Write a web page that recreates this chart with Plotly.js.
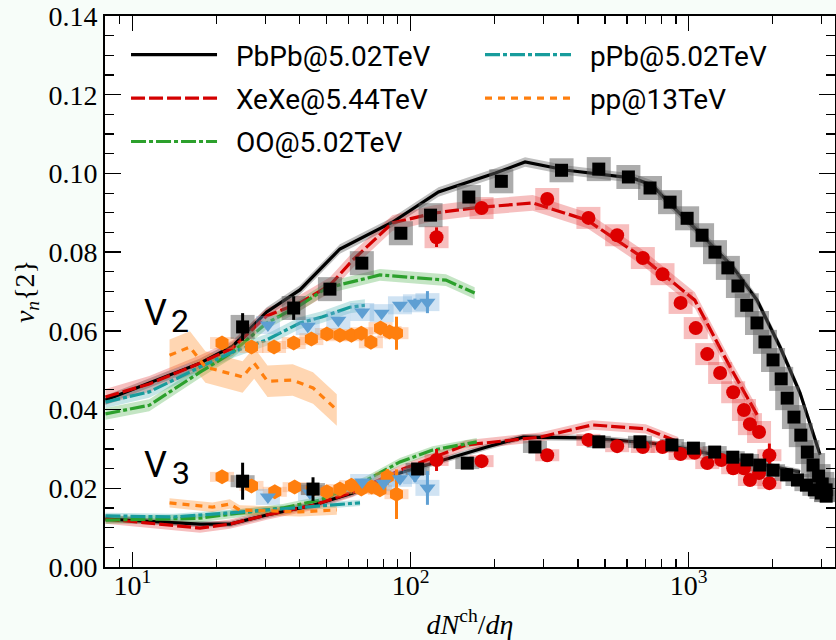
<!DOCTYPE html>
<html>
<head>
<meta charset="utf-8">
<script src="https://cdn.plot.ly/plotly-3.0.1.min.js"></script>
<style>html,body{margin:0;padding:0;background:#f7fdf9;}</style>
</head>
<body>
<div id="chart" style="width:836px;height:640px;"></div>
<script>
// ---------------- model curves (lines + bands) ----------------
const pbpbV2ModelX = [8, 11.5, 17.5, 22.9, 30.4, 40, 55.7, 86, 126, 202, 258, 365, 630, 740, 830, 1099, 1440, 1760, 2130, 2514, 2966];
const pbpbV2ModelY = [0.0424, 0.0467, 0.0518, 0.0561, 0.0648, 0.0704, 0.0808, 0.0876, 0.0953, 0.1001, 0.1029, 0.1008, 0.0988, 0.0970, 0.0932, 0.0848, 0.0762, 0.0678, 0.0559, 0.0442, 0.0285];
const xexeV2ModelX = [8, 11.5, 17.5, 22.9, 30.4, 40, 51.3, 62, 86, 121, 177, 275, 432, 680, 1052, 1409, 1780];
const xexeV2ModelY = [0.0432, 0.0465, 0.0518, 0.0556, 0.0638, 0.0671, 0.0716, 0.0780, 0.0874, 0.0899, 0.0914, 0.0925, 0.0881, 0.0787, 0.0678, 0.0508, 0.0381];
const ooV2ModelX = [8, 11.5, 17.5, 22.9, 30.4, 40, 50, 77.6, 134, 170];
const ooV2ModelY = [0.0389, 0.0411, 0.0495, 0.0546, 0.0620, 0.0665, 0.0709, 0.0742, 0.0729, 0.0696];
const ppbV2ModelX = [8, 11.5, 17.5, 22.9, 30.4, 40, 48, 60.5, 68.5];
const ppbV2ModelY = [0.0419, 0.0445, 0.0508, 0.0546, 0.0577, 0.0620, 0.0635, 0.0660, 0.0665];
const ppV2ModelX = [13.6, 16.1, 18.3, 24.9, 27.4, 30.6, 37.7, 44.6, 54.3];
const ppV2ModelY = [0.0538, 0.0559, 0.0508, 0.0483, 0.0518, 0.0472, 0.0475, 0.0455, 0.0399];

const pbpbV3ModelX = [8, 17.5, 22.4, 30.4, 44.6, 62, 91.6, 138, 188, 254, 430, 726, 950, 1531, 2514];
const pbpbV3ModelY = [0.0122, 0.0109, 0.0109, 0.0132, 0.0157, 0.0188, 0.0239, 0.0277, 0.0305, 0.0330, 0.0328, 0.0315, 0.0302, 0.0272, 0.0241];
const xexeV3ModelX = [8, 11.5, 17.5, 22.4, 30.4, 44.6, 62, 91.6, 158, 292, 450, 700, 917];
const xexeV3ModelY = [0.0122, 0.0112, 0.0099, 0.0109, 0.0132, 0.0157, 0.0190, 0.0246, 0.0310, 0.0330, 0.0361, 0.0351, 0.0318];
const ooV3ModelX = [8, 11.5, 17.5, 22.9, 34.7, 47.2, 69.6, 91.6, 120, 173];
const ooV3ModelY = [0.0119, 0.0122, 0.0124, 0.0135, 0.0150, 0.0170, 0.0221, 0.0267, 0.0297, 0.0318];
const ppbV3ModelX = [8, 14.0, 21.8, 40, 65.8];
const ppbV3ModelY = [0.0130, 0.0127, 0.0137, 0.0152, 0.0163];
const ppV3ModelX = [13.6, 19.4, 22.4, 24.3, 40, 54.3];
const ppV3ModelY = [0.0163, 0.0152, 0.0160, 0.0145, 0.0140, 0.0145];

// model band half-widths
const bandV2 = {pbpb: 0.0012, xexe: 0.0020, oo: 0.0015, ppb: 0.0015, pp: 0.0040};
const bandV3 = {pbpb: 0.0008, xexe: 0.0012, oo: 0.0010, ppb: 0.0008, pp: 0.0012};

// ---------------- experimental data ----------------
const pbpbV2DataX = [24.9, 38, 51.3, 66.8, 92.3, 118, 162, 212, 349, 475, 607, 726, 857, 987, 1117, 1243, 1383, 1503, 1617, 1760, 1880, 2010, 2150, 2260, 2390, 2530, 2670, 2800, 2930, 3020, 3120];
const pbpbV2DataY = [0.0610, 0.0658, 0.0706, 0.0772, 0.0848, 0.0894, 0.0940, 0.0980, 0.1008, 0.1011, 0.0991, 0.0963, 0.0927, 0.0886, 0.0843, 0.0800, 0.0760, 0.0714, 0.0665, 0.0620, 0.0572, 0.0526, 0.0478, 0.0429, 0.0381, 0.0335, 0.0292, 0.0259, 0.0231, 0.0211, 0.0196];
const pbpbV2DataErr = [0.0035, 0.0030, 0.0008, 0.0006, 0.0005, 0.0004, 0.0003, 0.0003, 0.0003, 0.0003, 0.0003, 0.0003, 0.0003, 0.0003, 0.0003, 0.0003, 0.0003, 0.0003, 0.0003, 0.0003, 0.0003, 0.0003, 0.0003, 0.0003, 0.0003, 0.0003, 0.0003, 0.0003, 0.0003, 0.0003, 0.0003];
const pbpbV3DataX = [24.9, 44.6, 106, 160, 280, 475, 668, 870, 1040, 1240, 1440, 1620, 1800, 2010, 2250, 2460, 2650, 2830, 3000, 3120];
const pbpbV3DataY = [0.0218, 0.0198, 0.0249, 0.0264, 0.0305, 0.0318, 0.0318, 0.0310, 0.0302, 0.0292, 0.0279, 0.0272, 0.0259, 0.0246, 0.0234, 0.0221, 0.0208, 0.0196, 0.0188, 0.0180];
const pbpbV3DataErr = [0.0047, 0.0030, 0.0008, 0.0006, 0.0004, 0.0003, 0.0003, 0.0003, 0.0003, 0.0003, 0.0003, 0.0003, 0.0003, 0.0003, 0.0003, 0.0003, 0.0003, 0.0003, 0.0003, 0.0003];

const xexeV2DataX = [124, 180, 310, 436, 553, 684, 805, 935, 1060, 1166, 1297, 1445, 1580, 1660, 1790];
const xexeV2DataY = [0.0838, 0.0912, 0.0935, 0.0887, 0.0843, 0.0785, 0.0744, 0.0671, 0.0607, 0.0541, 0.0493, 0.0444, 0.0399, 0.0363, 0.0343];
const xexeV2DataErr = [0.0025, 0.0006, 0.0005, 0.0004, 0.0004, 0.0004, 0.0004, 0.0004, 0.0004, 0.0004, 0.0004, 0.0004, 0.0004, 0.0004, 0.0004];
const xexeV3DataX = [124, 180, 310, 436, 553, 684, 805, 935, 1050, 1166, 1310, 1445, 1580, 1660, 1790, 1950, 1950];
const xexeV3DataY = [0.0272, 0.0269, 0.0284, 0.0323, 0.0307, 0.0305, 0.0305, 0.0287, 0.0290, 0.0264, 0.0272, 0.0251, 0.0251, 0.0221, 0.0239, 0.0284, 0.0213];
const xexeV3DataErr = [0.0028, 0.0006, 0.0005, 0.0004, 0.0004, 0.0004, 0.0004, 0.0004, 0.0004, 0.0004, 0.0004, 0.0004, 0.0004, 0.0004, 0.0004, 0.0030, 0.0004];

const ppbV2DataX = [30.7, 42.7, 55, 67, 78.7, 91.6, 103.7, 115];
const ppbV2DataY = [0.0615, 0.0612, 0.0627, 0.0648, 0.0645, 0.0665, 0.0670, 0.0673];
const ppbV2DataErr = [0.0005, 0.0005, 0.0005, 0.0005, 0.0006, 0.0008, 0.0012, 0.0028];
const ppbV3DataX = [30.7, 43.5, 67, 80, 91.6, 103.7, 115];
const ppbV3DataY = [0.0178, 0.0188, 0.0216, 0.0213, 0.0224, 0.0231, 0.0201];
const ppbV3DataErr = [0.0006, 0.0006, 0.0006, 0.0008, 0.0010, 0.0015, 0.0043];

const ppV2DataX = [21, 26.8, 32.3, 38, 44, 50, 55.7, 61.3, 66.5, 72, 78, 84, 89];
const ppV2DataY = [0.0569, 0.0559, 0.0559, 0.0569, 0.0579, 0.0592, 0.0589, 0.0589, 0.0594, 0.0571, 0.0607, 0.0597, 0.0594];
const ppV2DataErr = [0.0003, 0.0003, 0.0003, 0.0003, 0.0003, 0.0003, 0.0004, 0.0005, 0.0006, 0.0008, 0.0010, 0.0015, 0.0042];
const ppV3DataX = [21, 26.8, 32.5, 38.3, 44.3, 50, 55.7, 61.3, 66.5, 72.5, 77.6, 82.5, 89];
const ppV3DataY = [0.0229, 0.0206, 0.0191, 0.0203, 0.0196, 0.0191, 0.0198, 0.0208, 0.0198, 0.0203, 0.0196, 0.0229, 0.0185];
const ppV3DataErr = [0.0005, 0.0005, 0.0005, 0.0005, 0.0005, 0.0006, 0.0007, 0.0008, 0.0010, 0.0012, 0.0015, 0.0020, 0.0063];

// ---------------- labels ----------------
const legendNames = ['PbPb@5.02TeV', 'XeXe@5.44TeV', 'OO@5.02TeV', 'pPb@5.02TeV', 'pp@13TeV'];
const xTickVals = [10, 100, 1000];
const xTickText = ['10<sup>1</sup>', '10<sup>2</sup>', '10<sup>3</sup>'];
const xMinorVals = [8, 9, 20, 30, 40, 50, 60, 70, 80, 90, 200, 300, 400, 500, 600, 700, 800, 900, 2000, 3000];

// ---------------- styles ----------------
const C = {
  pbpb: '#000000', xexe: '#d40000', oo: '#2ca02c', ppb: '#179c9c', pp: '#ff7f0e',
  pbpbBand: 'rgba(0,0,0,0.25)', xexeBand: 'rgba(220,0,0,0.25)', ooBand: 'rgba(44,160,44,0.28)',
  ppbBand: 'rgba(23,156,156,0.25)', ppBand: 'rgba(255,127,14,0.32)',
  pbpbSys: 'rgba(90,90,90,0.5)', xexeSys: 'rgba(230,40,40,0.3)', ppbSys: 'rgba(120,175,220,0.35)', ppSys: 'rgba(255,150,80,0.35)',
  ppbMarker: '#5e9fd3', xexeMarker: '#dd0000'
};
const dashes = {pbpb: 'solid', xexe: '14px,4px', oo: '15px,3px,4px,3px', ppb: '15px,3px,4px,3px', pp: '7px,6px'};
const LW = 3.2;
const PX_PER_DECADE = 278;
const GAP = '\u00A0\u00A0';

function band(xs, ys, hw, color) {
  const x = xs.concat(xs.slice().reverse());
  const y = ys.map(v => v + hw).concat(ys.slice().reverse().map(v => v - hw));
  return {x: x, y: y, type: 'scatter', mode: 'lines', fill: 'toself', fillcolor: color,
          line: {width: 0, color: 'rgba(0,0,0,0)'}, showlegend: false, hoverinfo: 'skip'};
}
function line(xs, ys, key, name, legend) {
  const t = {x: xs, y: ys, type: 'scatter', mode: 'lines', name: name ? GAP + name : '',
             line: {color: C[key], width: LW, dash: dashes[key]}, showlegend: !!name};
  if (legend) t.legend = legend;
  if (name) t.legendgroup = name;
  return t;
}
// systematic box: horizontal bar of given half-width (px) and height (px)
function sysBox(xs, ys, halfPx, hPx, color) {
  const f = Math.pow(10, halfPx / PX_PER_DECADE);
  return {x: xs, y: ys, type: 'scatter', mode: 'markers', marker: {size: 1, opacity: 0},
          error_x: {type: 'data', symmetric: false, array: xs.map(v => v * (f - 1)),
                    arrayminus: xs.map(v => v * (1 - 1 / f)), thickness: hPx, width: 0, color: color},
          showlegend: false, hoverinfo: 'skip'};
}
function pts(xs, ys, errs, symbol, size, color) {
  return {x: xs, y: ys, type: 'scatter', mode: 'markers',
          marker: {symbol: symbol, size: size, color: color, line: {width: 0}},
          error_y: {type: 'data', array: errs, thickness: 3, width: 0, color: color},
          showlegend: false};
}

const traces = [
  band(pbpbV2ModelX, pbpbV2ModelY, bandV2.pbpb, C.pbpbBand),
  band(xexeV2ModelX, xexeV2ModelY, bandV2.xexe, C.xexeBand),
  band(ooV2ModelX, ooV2ModelY, bandV2.oo, C.ooBand),
  band(ppbV2ModelX, ppbV2ModelY, bandV2.ppb, C.ppbBand),
  band(ppV2ModelX, ppV2ModelY, bandV2.pp, C.ppBand),
  band(pbpbV3ModelX, pbpbV3ModelY, bandV3.pbpb, C.pbpbBand),
  band(xexeV3ModelX, xexeV3ModelY, bandV3.xexe, C.xexeBand),
  band(ooV3ModelX, ooV3ModelY, bandV3.oo, C.ooBand),
  band(ppbV3ModelX, ppbV3ModelY, bandV3.ppb, C.ppbBand),
  band(ppV3ModelX, ppV3ModelY, bandV3.pp, C.ppBand),

  line(pbpbV2ModelX, pbpbV2ModelY, 'pbpb', legendNames[0], 'legend'),
  line(xexeV2ModelX, xexeV2ModelY, 'xexe', legendNames[1], 'legend'),
  line(ooV2ModelX, ooV2ModelY, 'oo', legendNames[2], 'legend'),
  line(ppbV2ModelX, ppbV2ModelY, 'ppb', legendNames[3], 'legend2'),
  line(ppV2ModelX, ppV2ModelY, 'pp', legendNames[4], 'legend2'),
  line(pbpbV3ModelX, pbpbV3ModelY, 'pbpb'),
  line(xexeV3ModelX, xexeV3ModelY, 'xexe'),
  line(ooV3ModelX, ooV3ModelY, 'oo'),
  line(ppbV3ModelX, ppbV3ModelY, 'ppb'),
  line(ppV3ModelX, ppV3ModelY, 'pp'),

  sysBox(ppV2DataX, ppV2DataY, 12, 12, C.ppSys),
  sysBox(ppV3DataX, ppV3DataY, 12, 10, C.ppSys),
  sysBox(ppbV2DataX, ppbV2DataY, 12, 18, C.ppbSys),
  sysBox(ppbV3DataX, ppbV3DataY, 12, 16, C.ppbSys),
  sysBox(xexeV2DataX, xexeV2DataY, 12, 22, C.xexeSys),
  sysBox(xexeV3DataX, xexeV3DataY, 12, 12, C.xexeSys),
  sysBox(pbpbV2DataX, pbpbV2DataY, 12, 24, C.pbpbSys),
  sysBox(pbpbV3DataX, pbpbV3DataY, 12, 12, C.pbpbSys),

  pts(ppV2DataX, ppV2DataY, ppV2DataErr, 'hexagon', 15, C.pp),
  pts(ppV3DataX, ppV3DataY, ppV3DataErr, 'hexagon', 15, C.pp),
  pts(ppbV2DataX, ppbV2DataY, ppbV2DataErr, 'triangle-down', 14, C.ppbMarker),
  pts(ppbV3DataX, ppbV3DataY, ppbV3DataErr, 'triangle-down', 14, C.ppbMarker),
  pts(xexeV2DataX, xexeV2DataY, xexeV2DataErr, 'circle', 14, C.xexeMarker),
  pts(xexeV3DataX, xexeV3DataY, xexeV3DataErr, 'circle', 14, C.xexeMarker),
  pts(pbpbV2DataX, pbpbV2DataY, pbpbV2DataErr, 'square', 13, C.pbpb),
  pts(pbpbV3DataX, pbpbV3DataY, pbpbV3DataErr, 'square', 13, C.pbpb)
];

const serif = 'Liberation Serif';
const sans = 'Roboto';
const legendCommon = {
  bgcolor: 'rgba(0,0,0,0)', borderwidth: 0, font: {family: sans, size: 28, color: '#000'},
  itemwidth: 86, tracegroupgap: 4, yanchor: 'top', xanchor: 'left', traceorder: 'grouped'
};

const layout = {
  width: 836, height: 640,
  margin: {l: 105, r: 1, t: 16, b: 73, pad: 0},
  paper_bgcolor: '#f7fdf9', plot_bgcolor: '#ffffff',
  showlegend: true,
  legend: Object.assign({x: 0.0288, y: 0.9746}, legendCommon),
  legend2: Object.assign({x: 0.5137, y: 0.9746}, legendCommon),
  xaxis: {
    type: 'log', range: [Math.log10(7.97), Math.log10(3357)],
    tickmode: 'array', tickvals: xTickVals, ticktext: xTickText,
    ticks: 'inside', ticklen: 15, tickwidth: 1.5, tickcolor: '#000',
    ticklabelstandoff: -8,
    minor: {tickmode: 'array', tickvals: xMinorVals, ticks: 'inside', ticklen: 8, tickwidth: 1.2, tickcolor: '#000', showgrid: false},
    showline: true, linewidth: 2, linecolor: '#000', mirror: 'allticks',
    showgrid: false, zeroline: false,
    tickfont: {family: serif, size: 28, color: '#000'},
    title: {text: '<i>dN</i><sup>ch</sup>/<i>dη</i>', font: {family: serif, size: 28, color: '#000'}, standoff: 22}
  },
  yaxis: {
    range: [0, 0.14], dtick: 0.02, tick0: 0, tickformat: '.2f',
    ticks: 'inside', ticklen: 16, tickwidth: 1.5, tickcolor: '#000',
    minor: {dtick: 0.005, ticks: 'inside', ticklen: 9, tickwidth: 1.2, tickcolor: '#000', showgrid: false},
    showline: true, linewidth: 2, linecolor: '#000', mirror: 'allticks',
    showgrid: false, zeroline: false,
    tickfont: {family: serif, size: 28, color: '#000'},
    title: {text: '<i>v<sub>n</sub></i>{2}', font: {family: serif, size: 28, color: '#000'}, standoff: 6}
  },
  annotations: [
    {xref: 'paper', yref: 'paper', x: 0.0685, y: 0.461, xanchor: 'center', yanchor: 'middle', text: 'V', showarrow: false, font: {family: sans, size: 36, color: '#000'}},
    {xref: 'paper', yref: 'paper', x: 0.103, y: 0.447, xanchor: 'center', yanchor: 'middle', text: '2', showarrow: false, font: {family: sans, size: 32, color: '#000'}},
    {xref: 'paper', yref: 'paper', x: 0.0685, y: 0.185, xanchor: 'center', yanchor: 'middle', text: 'V', showarrow: false, font: {family: sans, size: 36, color: '#000'}},
    {xref: 'paper', yref: 'paper', x: 0.104, y: 0.171, xanchor: 'center', yanchor: 'middle', text: '3', showarrow: false, font: {family: sans, size: 32, color: '#000'}}
  ]
};

Plotly.newPlot('chart', traces, layout, {displayModeBar: false, staticPlot: true});
</script>
</body>
</html>
